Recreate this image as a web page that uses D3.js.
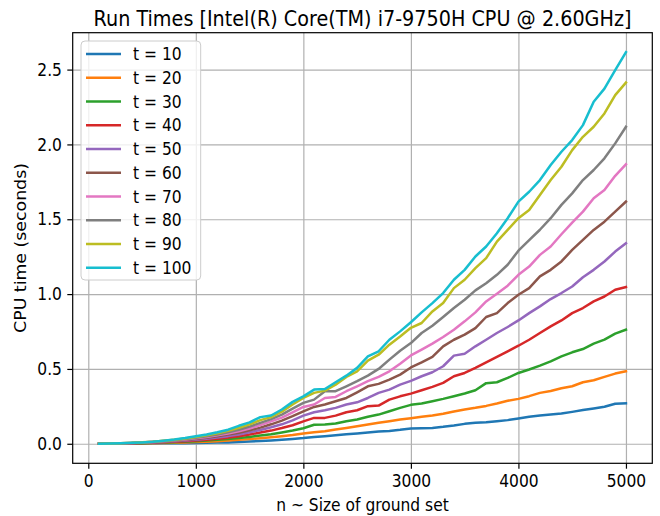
<!DOCTYPE html>
<html><head><meta charset="utf-8">
<script src="https://cdn.jsdelivr.net/npm/d3@7"></script>
<style>
body{margin:0;background:#fff;}
svg text{font-family:"DejaVu Sans",sans-serif;fill:#000;}
.sy{transform-box:fill-box;transform-origin:center;transform:scaleY(1.12);}
</style></head><body><svg id="c" width="660" height="516"></svg>
<script>
const nValues = [100,200,300,400,500,600,700,800,900,1000,1100,1200,1300,1400,1500,1600,1700,1800,1900,2000,
 2100,2200,2300,2400,2500,2600,2700,2800,2900,3000,3100,3200,3300,3400,3500,3600,3700,3800,3900,4000,
 4100,4200,4300,4400,4500,4600,4700,4800,4900,5000];

const t10 = [0.000,0.000,0.001,0.001,0.002,0.002,0.003,0.003,0.004,0.005,0.006,0.008,0.009,0.012,0.015,0.018,0.022,0.027,0.032,0.038,
 0.046,0.051,0.057,0.064,0.069,0.075,0.082,0.086,0.093,0.102,0.104,0.106,0.113,0.122,0.133,0.140,0.144,0.151,0.158,0.169,
 0.180,0.189,0.196,0.202,0.213,0.225,0.236,0.247,0.267,0.271];
const t20 = [0.000,0.001,0.001,0.002,0.003,0.004,0.005,0.007,0.009,0.011,0.014,0.017,0.021,0.026,0.031,0.037,0.043,0.050,0.058,0.068,
 0.077,0.084,0.095,0.106,0.117,0.129,0.140,0.151,0.162,0.171,0.180,0.189,0.200,0.216,0.229,0.240,0.253,0.269,0.287,0.300,
 0.318,0.340,0.353,0.371,0.384,0.411,0.424,0.447,0.469,0.484];
const t30 = [0.000,0.001,0.002,0.003,0.004,0.006,0.008,0.010,0.013,0.017,0.021,0.026,0.031,0.038,0.046,0.055,0.064,0.076,0.089,0.104,
 0.127,0.129,0.135,0.151,0.162,0.180,0.195,0.217,0.240,0.260,0.269,0.284,0.300,0.318,0.336,0.358,0.405,0.411,0.440,0.473,
 0.496,0.522,0.551,0.584,0.611,0.633,0.669,0.696,0.736,0.762];
const t40 = [0.000,0.001,0.002,0.003,0.005,0.007,0.010,0.013,0.017,0.022,0.027,0.034,0.041,0.050,0.062,0.075,0.088,0.105,0.124,0.150,
 0.173,0.173,0.188,0.211,0.224,0.251,0.255,0.295,0.317,0.335,0.358,0.380,0.407,0.451,0.473,0.507,0.544,0.580,0.618,0.655,
 0.695,0.740,0.784,0.824,0.873,0.907,0.951,0.984,1.029,1.047];
const t50 = [0.000,0.001,0.002,0.004,0.006,0.009,0.012,0.016,0.021,0.027,0.034,0.042,0.051,0.062,0.077,0.092,0.110,0.130,0.156,0.188,
 0.211,0.224,0.240,0.262,0.277,0.306,0.340,0.362,0.395,0.420,0.451,0.478,0.518,0.589,0.602,0.651,0.695,0.740,0.780,0.824,
 0.873,0.918,0.967,1.007,1.051,1.113,1.162,1.218,1.284,1.340];
const t60 = [0.000,0.001,0.002,0.004,0.007,0.010,0.014,0.019,0.025,0.032,0.040,0.050,0.061,0.074,0.090,0.108,0.130,0.155,0.185,0.217,
 0.246,0.262,0.284,0.306,0.344,0.384,0.400,0.429,0.462,0.510,0.544,0.580,0.651,0.695,0.729,0.773,0.847,0.873,0.940,0.996,
 1.040,1.118,1.162,1.218,1.295,1.362,1.429,1.484,1.551,1.618];
const t70 = [0.000,0.001,0.003,0.005,0.008,0.011,0.016,0.021,0.028,0.036,0.045,0.056,0.069,0.084,0.102,0.125,0.150,0.175,0.210,0.246,
 0.262,0.306,0.313,0.351,0.384,0.418,0.447,0.484,0.535,0.590,0.629,0.669,0.713,0.762,0.818,0.878,0.951,1.002,1.056,1.129,
 1.184,1.262,1.318,1.400,1.478,1.551,1.640,1.695,1.790,1.867];
const t80 = [0.000,0.001,0.003,0.005,0.009,0.013,0.018,0.024,0.031,0.040,0.050,0.062,0.077,0.094,0.115,0.140,0.165,0.195,0.235,0.273,
 0.295,0.351,0.351,0.384,0.418,0.455,0.500,0.562,0.622,0.673,0.740,0.789,0.847,0.907,0.962,1.025,1.073,1.129,1.196,1.290,
 1.360,1.430,1.507,1.596,1.673,1.762,1.829,1.907,2.007,2.118];
const t90 = [0.000,0.001,0.003,0.006,0.010,0.014,0.020,0.027,0.035,0.045,0.056,0.070,0.086,0.106,0.130,0.158,0.178,0.215,0.262,0.306,
 0.340,0.355,0.395,0.447,0.484,0.555,0.595,0.662,0.717,0.775,0.807,0.884,0.940,1.040,1.096,1.173,1.240,1.351,1.429,1.507,
 1.562,1.662,1.762,1.851,1.962,2.051,2.118,2.207,2.329,2.413];
const t100 = [0.000,0.002,0.004,0.006,0.009,0.013,0.020,0.028,0.038,0.050,0.062,0.077,0.094,0.120,0.143,0.178,0.189,0.229,0.280,0.317,
 0.362,0.366,0.411,0.455,0.507,0.584,0.618,0.695,0.751,0.812,0.878,0.940,1.007,1.096,1.162,1.251,1.318,1.407,1.507,1.618,
 1.684,1.762,1.862,1.951,2.029,2.129,2.285,2.373,2.496,2.616];

const seriesLabels = ["t = 10","t = 20","t = 30","t = 40","t = 50","t = 60","t = 70","t = 80","t = 90","t = 100"];
const seriesValues = [t10,t20,t30,t40,t50,t60,t70,t80,t90,t100];
const colors = ["#1f77b4","#ff7f0e","#2ca02c","#d62728","#9467bd","#8c564b","#e377c2","#7f7f7f","#bcbd22","#17becf"];
const xTicks = [0,1000,2000,3000,4000,5000];
const yTicks = [0,0.5,1.0,1.5,2.0,2.5];
const titleText = "Run Times [Intel(R) Core(TM) i7-9750H CPU @ 2.60GHz]";
const xLabel = "n ~ Size of ground set";
const yLabel = "CPU time (seconds)";

const L = 72.7, R = 652.3, T = 32.7, B = 463.3;
const svg = d3.select("#c");
const x = d3.scaleLinear().domain([-145, 5245]).range([L, R]);
const y = d3.scaleLinear().domain([-0.1305, 2.7465]).range([B, T]);
const fs = 15.5;

// grid
const gx = svg.append("g").attr("transform", `translate(0,${B})`)
  .call(d3.axisBottom(x).tickValues(xTicks).tickSize(-(B - T)).tickFormat(""));
gx.select(".domain").remove();
gx.selectAll("line").attr("stroke", "#b0b0b0").attr("stroke-width", 1.2);
const gy = svg.append("g").attr("transform", `translate(${L},0)`)
  .call(d3.axisLeft(y).tickValues(yTicks).tickSize(-(R - L)).tickFormat(""));
gy.select(".domain").remove();
gy.selectAll("line").attr("stroke", "#b0b0b0").attr("stroke-width", 1.2);

// lines
const line = d3.line().x((d, i) => x(nValues[i])).y(d => y(d));
seriesValues.forEach((vals, k) => {
  svg.append("path").datum(vals).attr("d", line)
    .attr("fill", "none").attr("stroke", colors[k]).attr("stroke-width", 2.5)
    .attr("stroke-linejoin", "round").attr("stroke-linecap", "square");
});

// axes ticks & labels
const ax = svg.append("g").attr("transform", `translate(0,${B})`)
  .call(d3.axisBottom(x).tickValues(xTicks).tickSize(5.4).tickPadding(7).tickFormat(d3.format("d")));
ax.select(".domain").remove();
ax.selectAll("line").attr("stroke", "#000").attr("stroke-width", 1.2);
ax.selectAll("text").attr("font-size", fs).attr("font-family", "DejaVu Sans").attr("class", "sy");
const ay = svg.append("g").attr("transform", `translate(${L},0)`)
  .call(d3.axisLeft(y).tickValues(yTicks).tickSize(5.4).tickPadding(5.4).tickFormat(d3.format(".1f")));
ay.select(".domain").remove();
ay.selectAll("line").attr("stroke", "#000").attr("stroke-width", 1.2);
ay.selectAll("text").attr("font-size", fs).attr("font-family", "DejaVu Sans").attr("class", "sy");

// spines
svg.append("rect").attr("x", L).attr("y", T).attr("width", R - L).attr("height", B - T)
  .attr("fill", "none").attr("stroke", "#000").attr("stroke-width", 1.2);

// title & labels
svg.append("text").attr("class", "sy").attr("x", (L + R) / 2).attr("y", 25)
  .attr("text-anchor", "middle").attr("font-size", 19.2).text(titleText);
svg.append("text").attr("class", "sy").attr("x", (L + R) / 2).attr("y", 510)
  .attr("text-anchor", "middle").attr("font-size", fs).text(xLabel);
svg.append("g").attr("transform", "translate(26,248) rotate(-90)")
  .append("text").attr("text-anchor", "middle").attr("font-size", fs)
  .style("transform-box", "fill-box").style("transform-origin", "center").style("transform", "scaleX(1.12)")
  .text(yLabel);

// legend
const lg = svg.append("g");
lg.append("rect").attr("x", 81).attr("y", 41).attr("width", 119.7).attr("height", 239)
  .attr("rx", 4).attr("fill", "#fff").attr("fill-opacity", 0.8).attr("stroke", "#cccccc").attr("stroke-width", 1);
seriesLabels.forEach((lab, k) => {
  const yy = 54 + k * 23.75;
  lg.append("line").attr("x1", 86).attr("x2", 121).attr("y1", yy).attr("y2", yy)
    .attr("stroke", colors[k]).attr("stroke-width", 2.5);
  lg.append("text").attr("class", "sy").attr("x", 133).attr("y", yy).attr("dy", "0.36em")
    .attr("font-size", fs).text(lab);
});
</script></body></html>
